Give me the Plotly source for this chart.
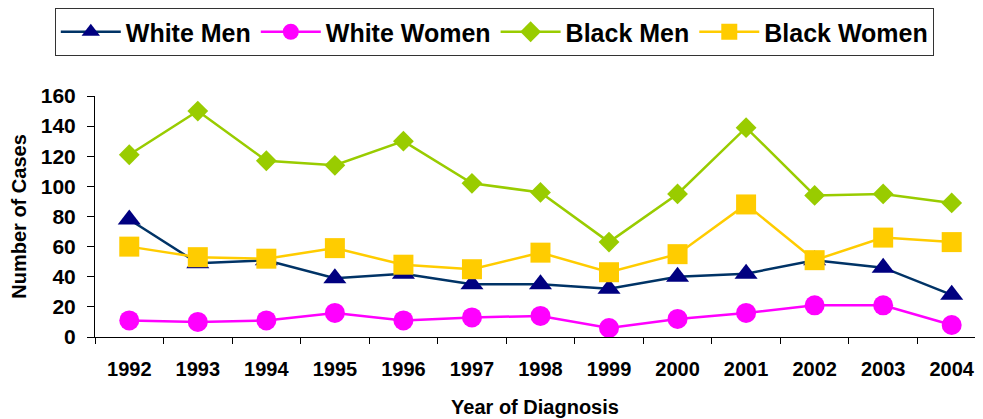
import plotly.graph_objects as go

years = ["1992", "1993", "1994", "1995", "1996", "1997", "1998",
         "1999", "2000", "2001", "2002", "2003", "2004"]

white_men = [78, 49, 51, 39, 42, 35, 35, 32, 40, 42, 51, 46, 28]
white_women = [11, 10, 11, 16, 11, 13, 14, 6, 12, 16, 21, 21, 8]
black_men = [121, 150, 117, 114, 130, 102, 96, 63, 95, 139, 94, 95, 89]
black_women = [60, 53, 52, 59, 48, 45, 56, 43, 55, 88, 51, 66, 63]

y_ticks = [0, 20, 40, 60, 80, 100, 120, 140, 160]

FONT = "Arial, Liberation Sans, sans-serif"

fig = go.Figure()

# one trace per group, Excel-style colours
fig.add_trace(go.Scatter(
    x=years, y=white_men, name="White Men", mode="lines+markers",
    line=dict(color="#003366", width=2.5),
    marker=dict(symbol="triangle-up", size=20, color="#000080")
))
fig.add_trace(go.Scatter(
    x=years, y=white_women, name="White Women", mode="lines+markers",
    line=dict(color="#FF00FF", width=2.5),
    marker=dict(symbol="circle", size=20, color="#FF00FF")
))
fig.add_trace(go.Scatter(
    x=years, y=black_men, name="Black Men", mode="lines+markers",
    line=dict(color="#99CC00", width=2.5),
    marker=dict(symbol="diamond", size=16, color="#99CC00")
))
fig.add_trace(go.Scatter(
    x=years, y=black_women, name="Black Women", mode="lines+markers",
    line=dict(color="#FFCC00", width=2.5),
    marker=dict(symbol="square", size=20, color="#FFCC00")
))

# page body has an 8px margin, so the figure is sized/offset to fit the window
fig.update_layout(
    autosize=False,
    width=975,
    height=411,
    margin=dict(l=87, r=8, t=88, b=82),
    plot_bgcolor="white",
    paper_bgcolor="white",
    font=dict(family=FONT, color="black"),
    legend=dict(
        orientation="h",
        xref="container", yref="container",
        x=0.048, xanchor="left",
        y=1.0, yanchor="top",
        font=dict(family=FONT, size=25, weight="bold", color="black"),
        bordercolor="#333333", borderwidth=1,
        itemwidth=60,
        bgcolor="white",
    ),
    xaxis=dict(
        type="category",
        range=[-0.5, 12.34],
        automargin=False,
        showline=True, linecolor="black", linewidth=1,
        ticks="outside", ticklen=6, tickcolor="black",
        tickson="boundaries",
        ticklabelstandoff=14,
        ticklabeloverflow="allow",
        showgrid=False,
        tickfont=dict(family=FONT, size=20, weight="bold"),
        title=dict(text="Year of Diagnosis", standoff=20,
                   font=dict(family=FONT, size=20, weight="bold")),
    ),
    yaxis=dict(
        range=[0, 160],
        tickvals=y_ticks,
        automargin=False,
        showline=True, linecolor="black", linewidth=1,
        ticks="outside", ticklen=7, tickcolor="black",
        ticklabelstandoff=7,
        showgrid=False, zeroline=False,
        tickfont=dict(family=FONT, size=21, weight="bold"),
        title=dict(text="Number of Cases", standoff=11,
                   font=dict(family=FONT, size=20, weight="bold")),
    ),
)

fig.write_html("out.html")
